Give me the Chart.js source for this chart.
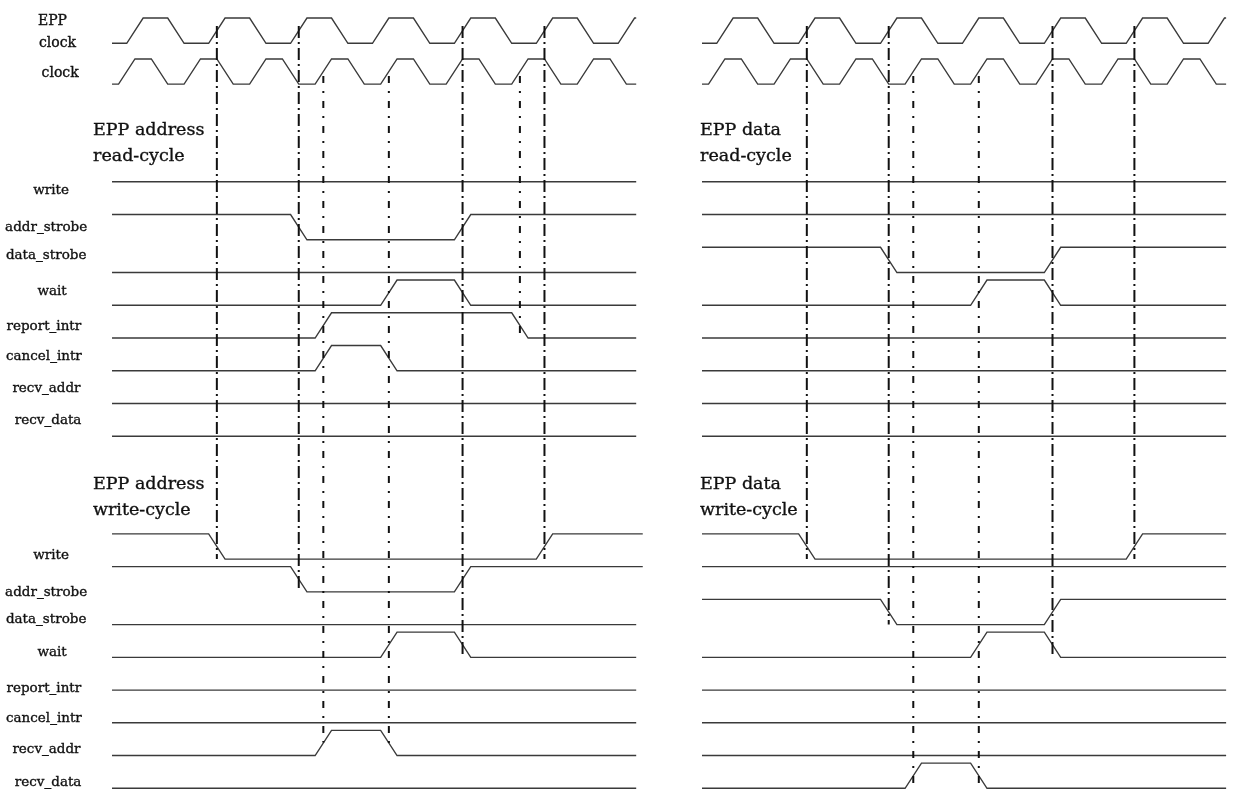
<!DOCTYPE html>
<html>
<head>
<meta charset="utf-8">
<title>EPP timing</title>
<script src="https://cdn.jsdelivr.net/npm/chart.js@4.4.1/dist/chart.umd.min.js"></script>
<style>
  html, body { margin: 0; padding: 0; background: #fff; }
  #wrap { width: 1233px; height: 790px; }
</style>
</head>
<body>
<div id="wrap"><canvas id="timing" width="1233" height="790"></canvas></div>
<script>
// ========== data: times in ns, levels 0 / 1 ==========
const signalNames = ['write', 'addr_strobe', 'data_strobe', 'wait', 'report_intr', 'cancel_intr', 'recv_addr', 'recv_data']
const leftTitles = [['EPP address', 'read-cycle'], ['EPP address', 'write-cycle']]
const rightTitles = [['EPP data', 'read-cycle'], ['EPP data', 'write-cycle']]

// each clock starts low and toggles at these times
const eppClockEdges = [4.5, 17, 29.5, 42, 54.5, 67, 79.5, 92, 104.5, 117, 129.5, 142, 154.5]
const clockEdges = [2, 12, 22, 32, 42, 52, 62, 72, 82, 92, 102, 112, 122, 132, 142, 152]

// start level of every signal, then the times where it toggles
const addrReadStart = [1, 1, 0, 0, 0, 0, 0, 0]
const addrReadEdges = [[], [54.5, 104.5], [], [82, 104.5], [62, 122], [62, 82], [], []]
const addrWriteStart = [1, 1, 0, 0, 0, 0, 0, 0]
const addrWriteEdges = [[29.5, 129.5], [54.5, 104.5], [], [82, 104.5], [], [], [62, 82], []]
const dataReadStart = [1, 1, 1, 0, 0, 0, 0, 0]
const dataReadEdges = [[], [], [54.5, 104.5], [82, 104.5], [], [], [], []]
const dataWriteStart = [1, 1, 1, 0, 0, 0, 0, 0]
const dataWriteEdges = [[29.5, 129.5], [], [54.5, 104.5], [82, 104.5], [], [], [], [62, 82]]

// reference lines (ns)
const leftMarkers = [32, 57, 64.5, 84.5, 107, 124.5, 132]
const rightMarkers = [32, 57, 64.5, 84.5, 107, 132]

// ========== layout ==========
const EDGE = 5          // ns for one transition
const AMP = 0.77        // high level, in rows
const SPAN = 160        // ns drawn per panel
const blockRow = [0, 10.75]
const eppClockRow = -5
const clockRow = -3.75
const leftMarkerShort = [0, 0, 1, 1, 0, 1, 0]
const leftMarkerEnds = [10.75, 11.75, 16.35, 16.6, 13.75, 4, 10.75]
const rightMarkerShort = [0, 0, 1, 1, 0, 0]
const rightMarkerEnds = [10.75, 12.75, 17.7, 17.7, 13.75, 10.75]
const labelRows = [
    [-0.4, 0.73, 1.59, 2.69, 3.76, 4.67, 5.65, 6.63],
    [10.75, 11.88, 12.7, 13.7, 14.81, 15.73, 16.67, 17.68]
]
const labelX = [-18.6, -20.1, -20.1, -18.3, -20.8, -20.8, -20.0, -19.5]
const titleRows = [[-2.2, -1.4], [8.61, 9.4]]
const serif = '"DejaVu Serif", "Liberation Serif", serif'

// ========== build waveforms ==========
function wave(start, edges, row, end){
    let lvl = start
    const pts = [{x: 0, y: -row + lvl * AMP}]
    for(let i=0; i<edges.length; i++){
        pts.push({x: edges[i], y: -row + lvl * AMP})
        lvl = 1 - lvl
        pts.push({x: edges[i] + EDGE, y: -row + lvl * AMP})
    }
    pts.push({x: end, y: -row + lvl * AMP})
    return pts
}

function trace(points, axis){
    return {
        data: points, xAxisID: axis, yAxisID: 'y',
        showLine: true, pointRadius: 0, tension: 0, fill: false,
        borderColor: '#3a3a3a', borderWidth: 1.35
    }
}

const datasets = []
const panels = [
    {axis: 'xL', block: 0, start: addrReadStart, edges: addrReadEdges},
    {axis: 'xL', block: 1, start: addrWriteStart, edges: addrWriteEdges, longEnd: [0, 1]},
    {axis: 'xR', block: 0, start: dataReadStart, edges: dataReadEdges},
    {axis: 'xR', block: 1, start: dataWriteStart, edges: dataWriteEdges}
]

;['xL', 'xR'].forEach(axis => {
    datasets.push(trace(wave(0, eppClockEdges, eppClockRow, SPAN), axis))
    datasets.push(trace(wave(0, clockEdges, clockRow, SPAN), axis))
})

panels.forEach(p => {
    for(let i=0; i<signalNames.length; i++){
        const end = p.longEnd && p.longEnd.includes(i) ? SPAN + 2 : SPAN
        datasets.push(trace(wave(p.start[i], p.edges[i], blockRow[p.block] + i, end), p.axis))
    }
})

function markers(times, shorts, ends, axis){
    for(let i=0; i<times.length; i++){
        const top = shorts[i] ? -4.0 : -5.53
        datasets.push({
            data: [{x: times[i], y: -top}, {x: times[i], y: -ends[i]}],
            xAxisID: axis, yAxisID: 'y', order: -1,
            showLine: true, pointRadius: 0, fill: false,
            borderColor: '#111', borderWidth: 2,
            borderDash: shorts[i] ? [7, 8, 2, 8] : [12, 4, 2, 4]
        })
    }
}
markers(leftMarkers, leftMarkerShort, leftMarkerEnds, 'xL')
markers(rightMarkers, rightMarkerShort, rightMarkerEnds, 'xR')

// ========== text ==========
function boldText(ctx, str, x, y){
    ctx.fillText(str, x, y)
    ctx.strokeText(str, x, y)
}

const textPlugin = {
    id: 'timingText',
    afterDraw(chart){
        const ctx = chart.ctx
        const xL = chart.scales.xL, xR = chart.scales.xR, y = chart.scales.y
        ctx.save()
        ctx.fillStyle = '#111'
        ctx.strokeStyle = '#111'
        ctx.lineWidth = 0.35
        ctx.textBaseline = 'alphabetic'

        ctx.font = '14px ' + serif
        ctx.textAlign = 'left'
        boldText(ctx, 'EPP', xL.getPixelForValue(-22.6), y.getPixelForValue(5.56))
        boldText(ctx, 'clock', xL.getPixelForValue(-22.3), y.getPixelForValue(4.9))
        boldText(ctx, 'clock', xL.getPixelForValue(-21.5), y.getPixelForValue(3.96))

        ctx.font = '13.5px ' + serif
        ctx.textAlign = 'center'
        for(let b=0; b<2; b++){
            for(let i=0; i<signalNames.length; i++){
                boldText(ctx, signalNames[i], xL.getPixelForValue(labelX[i]), y.getPixelForValue(-labelRows[b][i]))
            }
        }

        ctx.font = '17.5px ' + serif
        ctx.textAlign = 'left'
        for(let b=0; b<2; b++){
            for(let k=0; k<2; k++){
                boldText(ctx, leftTitles[b][k], xL.getPixelForValue(-5.8), y.getPixelForValue(-titleRows[b][k]))
                boldText(ctx, rightTitles[b][k], xR.getPixelForValue(-0.6), y.getPixelForValue(-titleRows[b][k]))
            }
        }
        ctx.restore()
    }
}

new Chart(document.getElementById('timing'), {
    type: 'scatter',
    data: {datasets: datasets},
    options: {
        responsive: false,
        animation: false,
        events: [],
        layout: {padding: 0},
        plugins: {legend: {display: false}, tooltip: {enabled: false}},
        scales: {
            xL: {type: 'linear', min: -34.19, max: 342.16, display: false},
            xR: {type: 'linear', min: -214.3, max: 162.1, display: false},
            y: {type: 'linear', min: -17.802, max: 6.321, display: false}
        }
    },
    plugins: [textPlugin]
})
</script>
</body>
</html>
